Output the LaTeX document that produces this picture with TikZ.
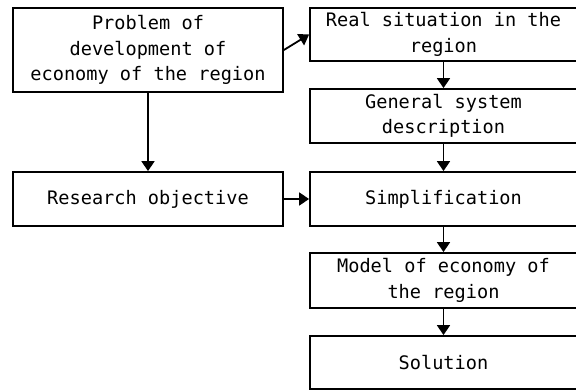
\documentclass[tikz,border=0pt]{standalone}
\usepackage{fontspec}
\setmonofont{DejaVu Sans Mono}
\usetikzlibrary{arrows.meta}
\begin{document}
\begin{tikzpicture}[x=1pt,y=-1pt,
	box/.style={draw,line width=1.8pt,inner sep=0pt,align=center,
		font=\ttfamily\fontsize{18.6}{25.5}\selectfont},
	wide/.style={box,minimum width=270pt},
	col/.style={box,minimum width=267pt},
	flow/.style={line width=1.8pt,-{Triangle[length=10pt,width=13pt]}}]
	\useasboundingbox (0,0) rectangle (576,390);
	\node [wide,minimum height=84pt] (problem) at (148,50) {Problem of\\development of\\economy of the region};
	\node [wide,minimum height=54pt] (objective) at (148,199) {Research objective};
	\node [col,minimum height=53pt] (real) at (443.5,34.5) {Real situation in the\\region};
	\node [col,minimum height=54pt] (general) at (443.5,116) {General system\\description};
	\node [col,minimum height=54pt] (simple) at (443.5,199) {Simplification};
	\node [col,minimum height=55pt] (model) at (443.5,280.5) {Model of economy of\\the region};
	\node [col,minimum height=53pt] (solution) at (443.5,362.5) {Solution};
	\draw [flow] (problem.east) -- (real.west);
	\draw [flow] (problem) -- (objective);
	\draw [flow] (objective) -- (simple);
	\draw [flow] (real) -- (general);
	\draw [flow] (general) -- (simple);
	\draw [flow] (simple) -- (model);
	\draw [flow] (model) -- (solution);
\end{tikzpicture}
\end{document}
